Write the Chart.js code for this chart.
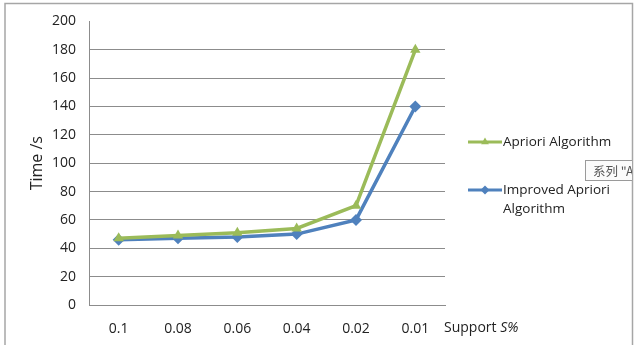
<!DOCTYPE html>
<html>
<head>
<meta charset="utf-8">
<script src="https://cdn.jsdelivr.net/npm/chart.js@4/dist/chart.umd.min.js"></script>
<style>
  html, body { margin: 0; padding: 0; background: #fff; }
  #wrap { position: relative; width: 642px; height: 345px; }
</style>
</head>
<body>
<div id="wrap"><canvas id="c" width="642" height="345"></canvas></div>
<script>
const categories = ['0.1', '0.08', '0.06', '0.04', '0.02', '0.01'];
const aprioriTimes = [47, 49, 51, 54, 70, 180];
const improvedTimes = [46, 47, 48, 50, 60, 140];
const seriesNames = ['Apriori Algorithm', ['Improved Apriori', 'Algorithm']];

const GREEN = '#9BBB59';
const BLUE = '#4F81BD';
const FONT = '"Open Sans", Lato, sans-serif';

// Frame, legend, x-axis caption and the hover hint box
const decor = {
  id: 'decor',
  beforeDraw(chart) {
    const ctx = chart.ctx;
    ctx.save();
    ctx.fillStyle = '#fff';
    ctx.fillRect(0, 0, chart.width, chart.height);
    ctx.restore();
  },
  afterDraw(chart) {
    const ctx = chart.ctx;
    ctx.save();
    // outer frame
    ctx.strokeStyle = '#a6a6a6';
    ctx.lineWidth = 1.5;
    ctx.strokeRect(5, 3.5, 627.5, 345);

    // x-axis caption "Support S%"
    ctx.fillStyle = '#222';
    ctx.textBaseline = 'middle';
    ctx.textAlign = 'left';
    ctx.font = '14px ' + FONT;
    const cy = 328;
    ctx.fillText('Support ', 444, cy);
    const w = ctx.measureText('Support ').width;
    ctx.font = 'italic 14px ' + FONT;
    ctx.fillText('S%', 444 + w, cy);

    // legend
    const items = [
      { color: GREEN, style: 'triangle', y: 142, text: seriesNames[0] },
      { color: BLUE, style: 'rectRot', y: 190, text: seriesNames[1] }
    ];
    items.forEach(it => {
      ctx.strokeStyle = it.color;
      ctx.lineWidth = 3;
      ctx.beginPath();
      ctx.moveTo(468, it.y);
      ctx.lineTo(502, it.y);
      ctx.stroke();
      ctx.fillStyle = it.color;
      Chart.helpers.drawPoint(ctx, { pointStyle: it.style, radius: 4.5, borderWidth: 0 }, 485, it.y);
      ctx.fillStyle = '#222';
      ctx.font = '13.5px ' + FONT;
      ctx.textAlign = 'left';
      ctx.textBaseline = 'middle';
      const lines = Array.isArray(it.text) ? it.text : [it.text];
      lines.forEach((ln, i) => ctx.fillText(ln, 503, it.y + i * 19));
    });

    // hover hint box, cut off by the frame
    ctx.beginPath();
    ctx.rect(0, 0, 632, 345);
    ctx.clip();
    ctx.fillStyle = '#fbfbfb';
    ctx.strokeStyle = '#9a9a9a';
    ctx.lineWidth = 1;
    ctx.fillRect(585.5, 160.5, 80, 20);
    ctx.strokeRect(585.5, 160.5, 80, 20);
    ctx.fillStyle = '#555';
    ctx.font = '12.5px "Noto Sans CJK SC", sans-serif';
    ctx.textBaseline = 'middle';
    ctx.fillText('系列 "A', 593, 171);
    ctx.restore();
  }
};

new Chart(document.getElementById('c'), {
  type: 'line',
  data: {
    labels: categories,
    datasets: [
      {
        label: 'Apriori Algorithm',
        data: aprioriTimes,
        borderColor: GREEN,
        backgroundColor: GREEN,
        borderWidth: 3.5,
        pointStyle: 'triangle',
        pointRadius: 6,
        pointBorderWidth: 0,
        tension: 0
      },
      {
        label: 'Improved Apriori Algorithm',
        data: improvedTimes,
        borderColor: BLUE,
        backgroundColor: BLUE,
        borderWidth: 3.5,
        pointStyle: 'rectRot',
        pointRadius: 6,
        pointBorderWidth: 0,
        tension: 0
      }
    ]
  },
  options: {
    responsive: false,
    animation: false,
    devicePixelRatio: 1,
    layout: { padding: { left: 20, right: 197, top: 20, bottom: 0 } },
    plugins: {
      legend: { display: false },
      tooltip: { enabled: false },
      title: { display: false }
    },
    scales: {
      x: {
        offset: true,
        grid: { display: false, drawTicks: false },
        border: { display: true, color: '#8c8c8c', width: 1 },
        ticks: { color: '#222', font: { family: FONT, size: 14 }, padding: 16, maxRotation: 0 },
        afterFit(scale) { scale.height = 40; }
      },
      y: {
        min: 0,
        max: 200,
        ticks: { stepSize: 20, color: '#222', font: { family: FONT, size: 14 }, padding: 13 },
        grid: {
          drawTicks: false,
          color: ctx => (ctx.tick && ctx.tick.value === 200) ? 'rgba(0,0,0,0)' : '#8c8c8c',
          lineWidth: 1
        },
        border: { display: true, color: '#8c8c8c', width: 1 },
        title: {
          display: true,
          text: 'Time /s',
          color: '#222',
          font: { family: FONT, size: 16 },
          padding: { top: 8, bottom: 2 }
        },
        afterFit(scale) { scale.width = 69; }
      }
    }
  },
  plugins: [decor]
});
</script>
</body>
</html>
